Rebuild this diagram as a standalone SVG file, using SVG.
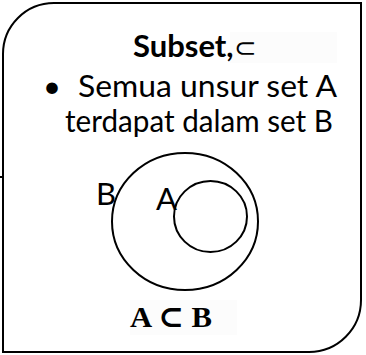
<svg xmlns="http://www.w3.org/2000/svg" width="366" height="355" viewBox="0 0 366 355">
<style>
.frame{fill:#fff;stroke:#000;stroke-width:2}
.ln{fill:none;stroke:#000;stroke-width:2}
.t{font-family:Lato,"Open Sans","Liberation Sans",sans-serif;font-size:31px;fill:#000}
.m{font-family:"Liberation Serif","DejaVu Serif",serif;font-weight:bold;font-size:30px;fill:#000}
.bg{fill:#fcfcfc}
</style>
<rect width="366" height="355" fill="#fff"/>
<g id="card">
<path class="frame" d="M3,54 A51,51 0 0 1 54,3 L361,3 L361,300 A52,52 0 0 1 309,352 L3,352 Z"/>
<line class="ln" x1="0" y1="177" x2="3" y2="177"/>
<rect class="bg" x="230" y="32" width="107" height="31"/>
<rect class="bg" x="130" y="300" width="107" height="35"/>
<text class="t" x="133" y="57" font-size="30" font-weight="bold">Subset,<tspan font-weight="normal" font-size="27">⊂</tspan></text>
<text class="t" x="43" y="97">•</text>
<text class="t" x="78" y="97" textLength="259" lengthAdjust="spacingAndGlyphs">Semua unsur set A</text>
<text class="t" x="65" y="132" textLength="268" lengthAdjust="spacingAndGlyphs">terdapat dalam set B</text>
</g>
<g id="venn">
<ellipse class="ln" cx="185" cy="221.5" rx="73" ry="68.5"/>
<ellipse class="ln" cx="210.5" cy="216.5" rx="36.5" ry="35.5"/>
<text class="t" x="96" y="205" font-size="28">B</text>
<text class="t" x="156" y="210" font-size="28">A</text>
<text class="m" x="130" y="327" textLength="82" lengthAdjust="spacingAndGlyphs">A ⊂ B</text>
</g>
</svg>
